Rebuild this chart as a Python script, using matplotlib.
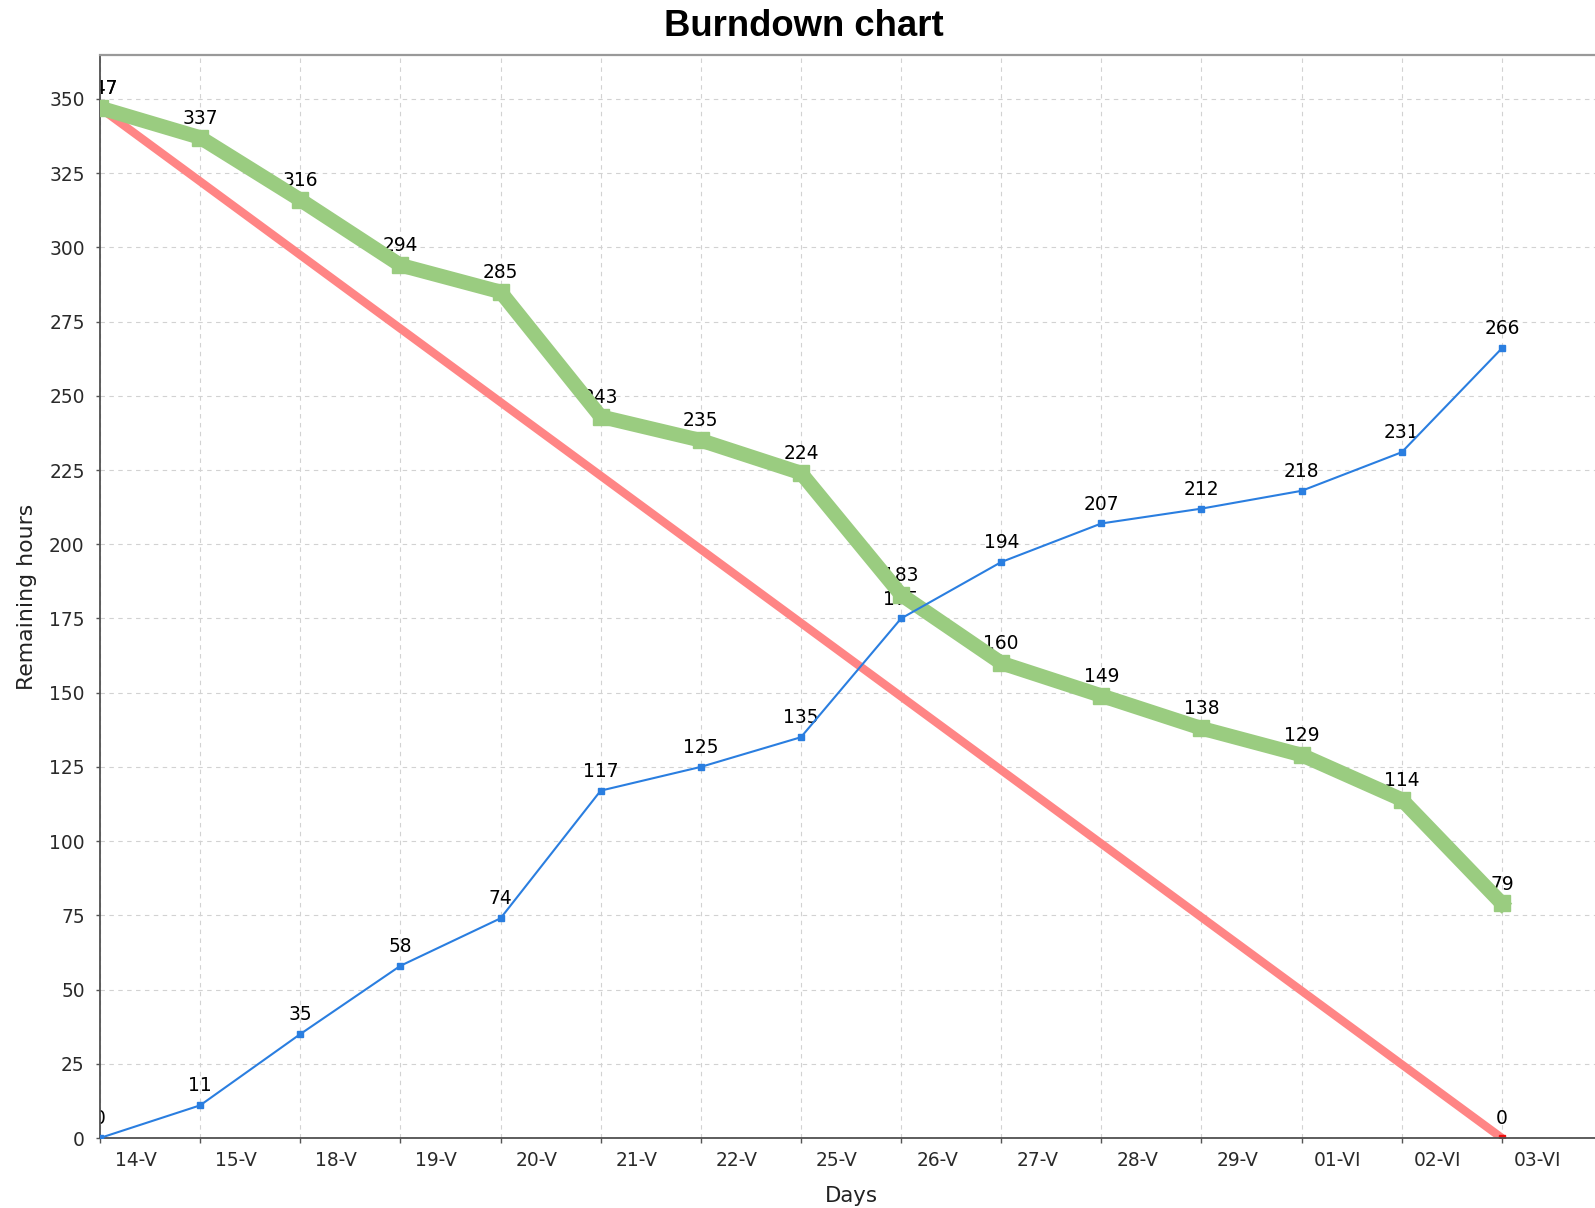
import matplotlib
matplotlib.use("Agg")
import matplotlib.pyplot as plt
from matplotlib.transforms import ScaledTranslation

days = ["14-V", "15-V", "18-V", "19-V", "20-V", "21-V", "22-V", "25-V",
        "26-V", "27-V", "28-V", "29-V", "01-VI", "02-VI", "03-VI"]
remaining = [347, 337, 316, 294, 285, 243, 235, 224, 183, 160, 149, 138, 129, 114, 79]
spent = [0, 11, 35, 58, 74, 117, 125, 135, 175, 194, 207, 212, 218, 231, 266]
ideal_x = [0, 14]
ideal = [347, 0]
yticks = list(range(0, 351, 25))

W, H = 1595, 1208
fig = plt.figure(figsize=(W / 100, H / 100), dpi=100)
ax = fig.add_axes([100 / W, 1 - 1138 / H, 1 - 100 / W, (1138 - 55) / H])

x = list(range(len(days)))

ax.plot(ideal_x, ideal, color="#ff8585", lw=6, solid_capstyle="butt", zorder=2)
ax.plot(ideal_x, ideal, linestyle="none", marker="s", ms=4.5, color="#ee1010", zorder=2.5)
ax.plot(x, remaining, color="#9acc80", lw=10.5, marker="s", ms=11,
        solid_joinstyle="miter", zorder=3)
ax.plot(x, spent, color="#2a7ee0", lw=1.5, marker="s", ms=4.5, zorder=4)

lab_kw = dict(textcoords="offset points", xytext=(0, 10), ha="center", va="baseline",
              fontsize=13.4, color="black", clip_on=True, zorder=1,
              family="DejaVu Sans")
for xi, v in zip(ideal_x, ideal):
    ax.annotate(str(v), (xi, v), **lab_kw)
for xi, v in zip(x, remaining):
    ax.annotate(str(v), (xi, v), **lab_kw)
for xi, v in zip(x, spent):
    ax.annotate(str(v), (xi, v), **lab_kw)

ax.set_xlim(0, 14.93)
ax.set_ylim(0, 364.8)
ax.set_xticks(x)
ax.set_xticklabels(days)
ax.set_yticks(yticks)
ax.set_yticklabels([str(t) for t in yticks])

ax.tick_params(axis="both", direction="out", colors="#555555", labelcolor="#2a2a2a",
               labelsize=13.4, width=1.0)
ax.tick_params(axis="x", length=3.6, pad=6.0)
ax.tick_params(axis="y", length=3.0, pad=8.0)
off = ScaledTranslation(36 / 100, 0, fig.dpi_scale_trans)
for lab in ax.get_xticklabels():
    lab.set_transform(lab.get_transform() + off)

ax.grid(True, color="#d2d2d2", linestyle=(0, (4, 4)), linewidth=0.8)
ax.set_axisbelow(True)

for s in ["left", "bottom"]:
    ax.spines[s].set_color("#505050")
    ax.spines[s].set_linewidth(1.3)
ax.spines["top"].set_color("#999999")
ax.spines["top"].set_linewidth(1.6)
ax.spines["right"].set_visible(False)

fig.text(804 / W, 1 - 36 / H, "Burndown chart", ha="center", va="baseline",
         fontsize=26.3, fontweight="bold", family="Liberation Sans")
fig.text(851 / W, 1 - 1202 / H, "Days", ha="center", va="baseline",
         fontsize=15.3, color="#222222", family="DejaVu Sans")
fig.text(27 / W, 1 - 597 / H, "Remaining hours", ha="center", va="center",
         rotation=90, fontsize=15.8, color="#222222", family="DejaVu Sans")

fig.savefig("out.png", dpi=100)
